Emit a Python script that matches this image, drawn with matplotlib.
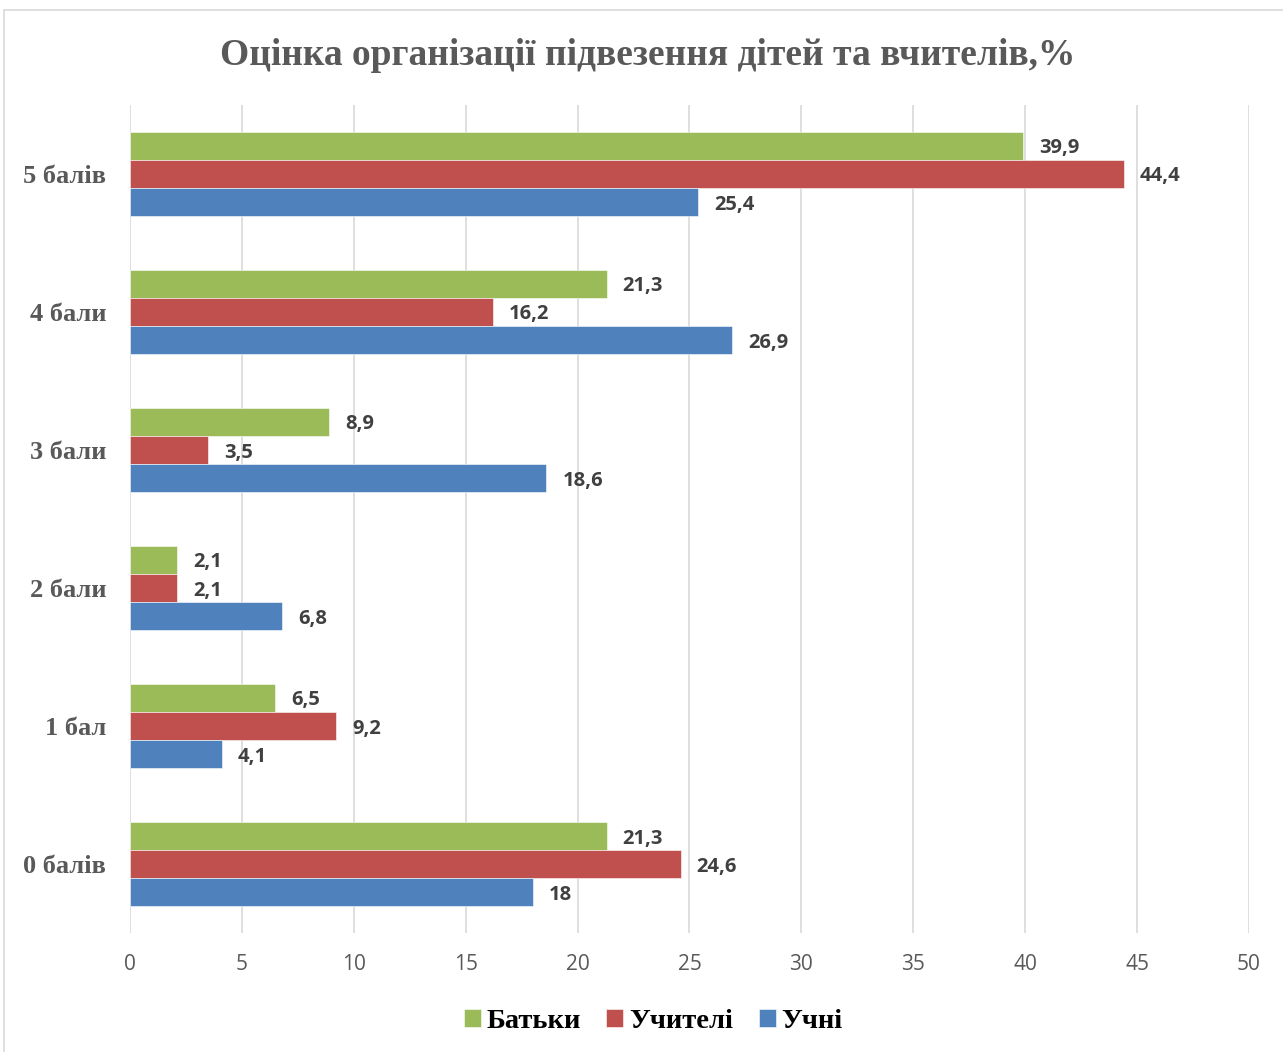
import numpy as np
import matplotlib.pyplot as plt
from matplotlib.patches import Rectangle

categories = ['0 балів', '1 бал', '2 бали', '3 бали', '4 бали', '5 балів']
uchni = [18, 4.1, 6.8, 18.6, 26.9, 25.4]
uchyteli = [24.6, 9.2, 2.1, 3.5, 16.2, 44.4]
batky = [21.3, 6.5, 2.1, 8.9, 21.3, 39.9]
series_names = ['Батьки', 'Учителі', 'Учні']
x_ticks = list(range(0, 51, 5))

colors = {'Батьки': '#9BBB59', 'Учителі': '#C0504D', 'Учні': '#4F81BD'}

fig = plt.figure(figsize=(12.83, 10.52), dpi=100)
ax = fig.add_axes([0.1013, 0.1131, 0.8722, 0.7871])

# outer chart frame
fig.patches.append(Rectangle((0.003, -0.01), 1.2, 1.0005, transform=fig.transFigure,
                             fill=False, edgecolor='#D9D9D9', linewidth=1.2))

y = np.arange(len(categories))
h = 0.203
series = [('Батьки', batky, h), ('Учителі', uchyteli, 0), ('Учні', uchni, -h)]

def fmt(v):
    s = f'{v:g}'
    return s.replace('.', ',')

for name, vals, off in series:
    bars = ax.barh(y + off, vals, height=h, color=colors[name], label=name,
                   edgecolor='white', linewidth=0.4, zorder=3)
    for b, v in zip(bars, vals):
        ax.text(b.get_width() + 0.72, b.get_y() + b.get_height() / 2, fmt(v),
                va='center_baseline', ha='left', fontsize=14.5, fontweight='bold',
                color='#404040', family='Open Sans')

ax.set_xlim(0, 50)
ax.set_ylim(-0.5, 5.5)
ax.set_xticks(x_ticks)
ax.set_xticklabels([str(t) for t in x_ticks], fontsize=15, color='#595959', family='Open Sans')
ax.set_yticks(y)
ax.set_yticklabels(categories, fontsize=19, fontweight='bold', color='#595959',
                   family='Liberation Serif', va='center_baseline')
ax.tick_params(axis='both', length=0)
ax.tick_params(axis='x', pad=15)
ax.tick_params(axis='y', pad=17)
ax.grid(axis='x', color='#D9D9D9', linewidth=1.2, zorder=0)
for s in ax.spines.values():
    s.set_visible(False)

fig.text(0.505, 0.947, 'Оцінка організації підвезення дітей та вчителів,%',
         ha='center', va='center', fontsize=27, fontweight='bold', color='#595959',
         family='Liberation Serif')

handles, labels = ax.get_legend_handles_labels()
leg = fig.legend(handles, labels, loc='center', bbox_to_anchor=(0.509, 0.029), ncol=3,
                 frameon=False, prop={'family': 'Liberation Serif', 'weight': 'bold', 'size': 20.5},
                 handlelength=0.6, handleheight=0.6, handletextpad=0.2, columnspacing=0.9)

fig.savefig('out.png', dpi=100)
